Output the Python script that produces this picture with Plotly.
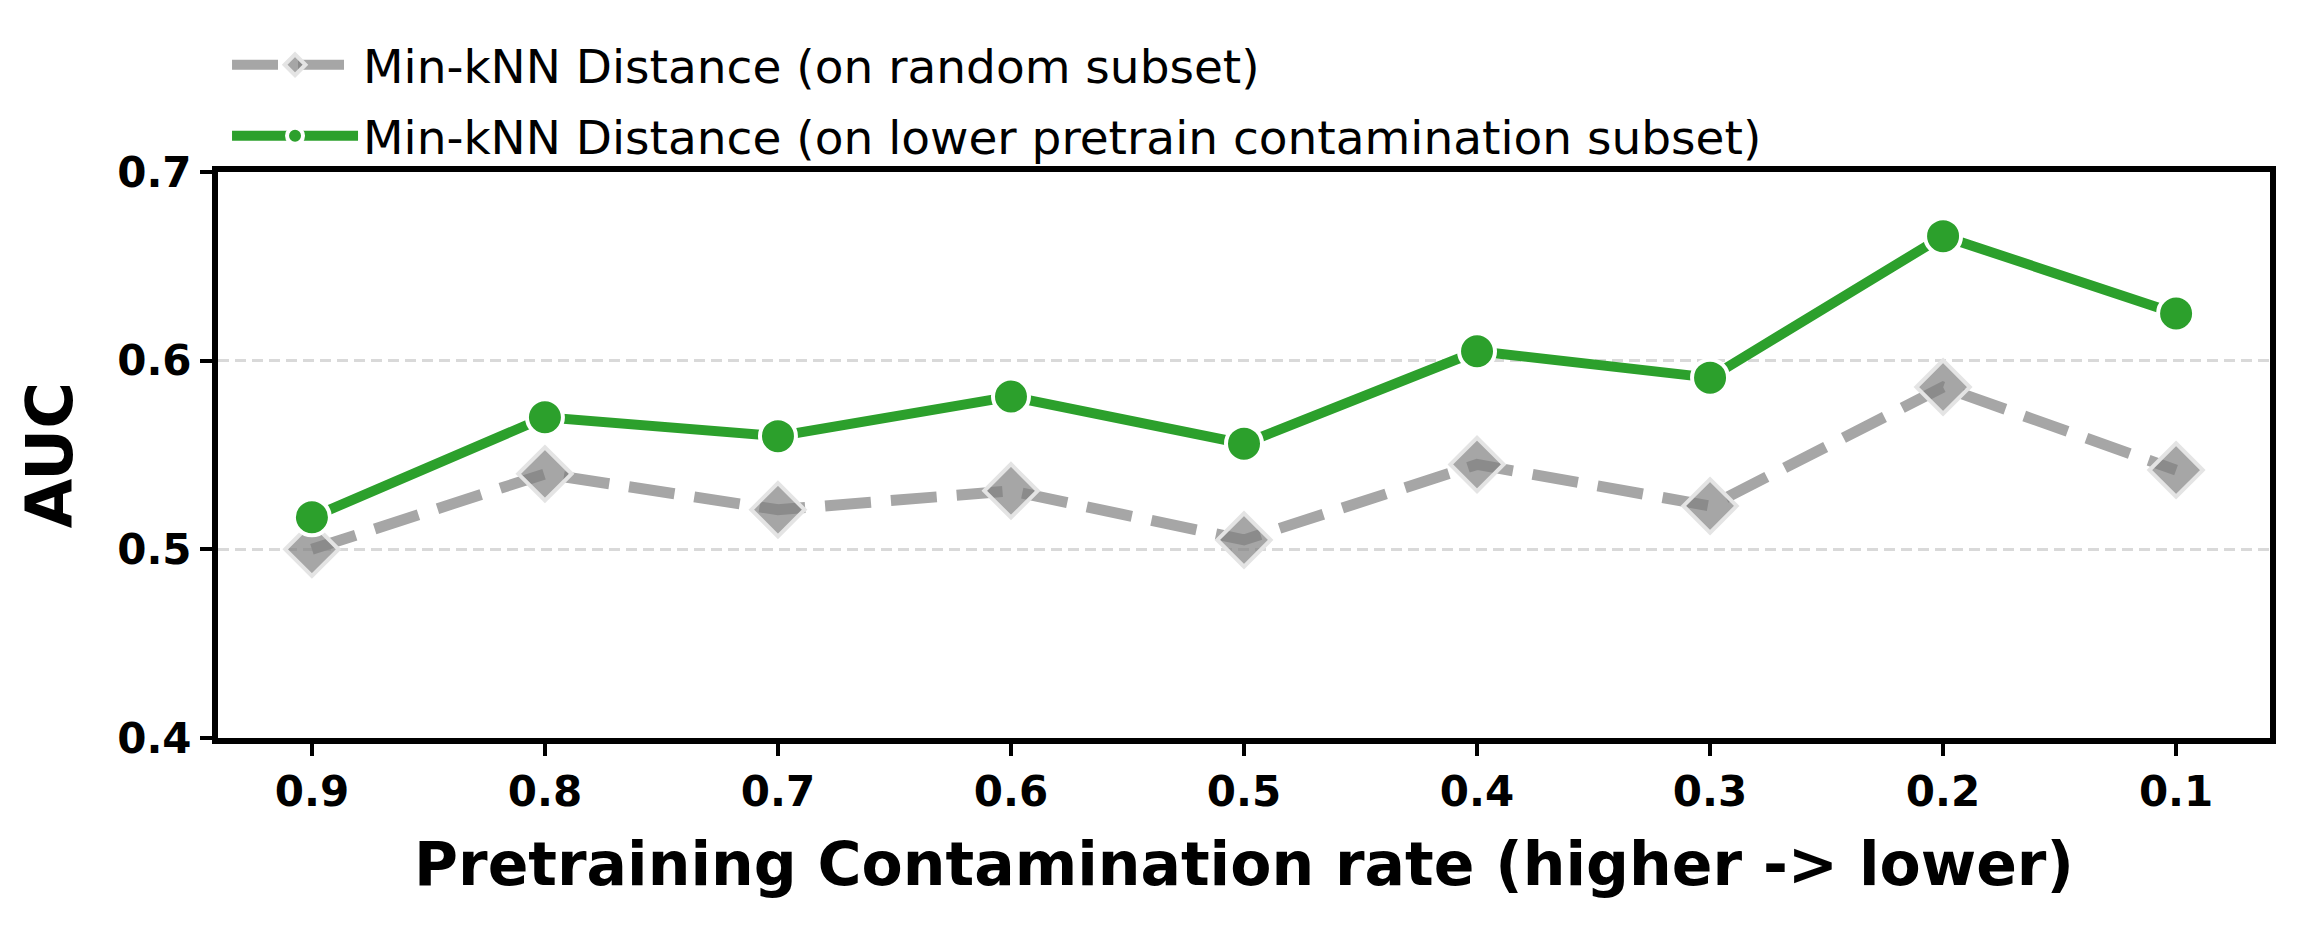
import plotly.graph_objects as go

categories = ["0.9", "0.8", "0.7", "0.6", "0.5", "0.4", "0.3", "0.2", "0.1"]
random_subset = [0.500, 0.540, 0.521, 0.531, 0.505, 0.545, 0.523, 0.586, 0.542]
lower_subset = [0.517, 0.570, 0.560, 0.581, 0.556, 0.605, 0.591, 0.666, 0.625]
y_ticks = [0.4, 0.5, 0.6, 0.7]
name_random = "Min-kNN Distance (on random subset)"
name_lower = "Min-kNN Distance (on lower pretrain contamination subset)"
x_title = "Pretraining Contamination rate (higher -> lower)"
y_title = "AUC"

FONT = "DejaVu Sans"

fig = go.Figure()
fig.add_trace(go.Scatter(
    x=categories, y=random_subset, name=name_random, mode="lines+markers",
    line=dict(color="#a6a6a6", width=11, dash="46px,20px"),
    marker=dict(symbol="diamond", size=41, color="rgba(128,128,128,0.7)",
                line=dict(color="#e4e4e4", width=4)),
    legendgroup="a",
))
fig.add_trace(go.Scatter(
    x=categories, y=lower_subset, name=name_lower, mode="lines+markers",
    line=dict(color="#2ca02c", width=10),
    marker=dict(symbol="circle", size=36, color="#2ca02c",
                line=dict(color="white", width=4)),
    legendgroup="b",
))

fig.update_layout(
    width=2283, height=909,
    margin=dict(l=210, r=21, t=164, b=179, pad=0),
    plot_bgcolor="white", paper_bgcolor="white",
    font=dict(family=FONT, color="black"),
    legend=dict(
        x=0.0044, y=0.997, xanchor="left", yanchor="bottom",
        bgcolor="rgba(0,0,0,0)", traceorder="grouped", tracegroupgap=7,
        font=dict(family=FONT, size=47, color="black"),
        itemwidth=126,
    ),
    xaxis=dict(
        type="category", range=[-0.403, 8.403], automargin=False,
        showline=True, mirror=True, linecolor="black", linewidth=6,
        ticks="outside", ticklen=12, tickwidth=3.5, tickcolor="black",
        showgrid=False, zeroline=False,
        tickfont=dict(family=FONT, size=42, weight="bold"),
        title=dict(text=x_title, font=dict(family=FONT, size=60, weight="bold"), standoff=30),
    ),
    yaxis=dict(
        range=[0.4, 0.7], tickvals=y_ticks, ticktext=[f"{v:.1f}" for v in y_ticks],
        automargin=False,
        showline=True, mirror=True, linecolor="black", linewidth=6,
        ticks="outside", ticklen=12, tickwidth=3.5, tickcolor="black",
        showgrid=True, gridcolor="#d9d9d9", gridwidth=3, griddash="11px,6px",
        zeroline=False,
        tickfont=dict(family=FONT, size=42, weight="bold"),
        title=dict(text=y_title, font=dict(family=FONT, size=64, weight="bold"), standoff=26),
    ),
)

fig.write_html("out.html")
